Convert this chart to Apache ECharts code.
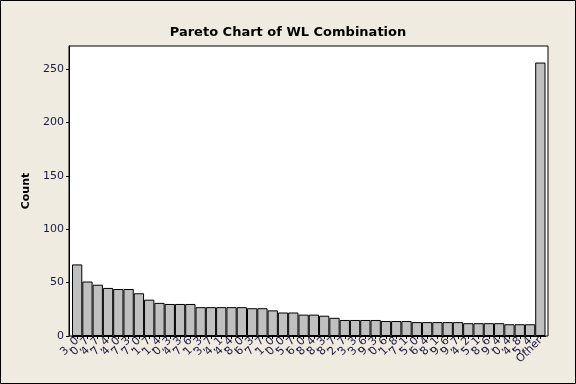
<!DOCTYPE html>
<html><head><meta charset="utf-8">
<script src="https://cdn.jsdelivr.net/npm/echarts@6/dist/echarts.min.js"></script>
<style>html,body{margin:0;padding:0;background:#EFEBE1}#c{width:576px;height:384px}</style>
</head><body><div id="c"></div>
<script>
const categories = ["3, 0","0, 7","4, 7","7, 4","4, 0","7, 3","7, 0","1, 7","1, 4","0, 3","4, 3","7, 6","1, 3","3, 7","4, 1","4, 4","8, 0","6, 3","7, 7","1, 0","0, 0","5, 7","6, 0","8, 4","8, 3","8, 7","2, 7","3, 3","3, 6","9, 3","0, 6","1, 8","7, 1","5, 0","6, 4","8, 1","9, 6","9, 7","4, 2","5, 1","8, 6","9, 4","0, 4","4, 8","5, 4","Other"];
const counts = [67,51,48,45,44,44,40,34,31,30,30,30,27,27,27,27,27,26,26,24,22,22,20,20,19,17,15,15,15,15,14,14,14,13,13,13,13,13,12,12,12,12,11,11,11,256];
const yTicks = [0,50,100,150,200,250];
const yMax = 271.5;

const chart = echarts.init(document.getElementById('c'));
const txt = '#1a1a40';
chart.setOption({
  backgroundColor: '#EFEBE1',
  animation: false,
  title: {
    text: 'Pareto Chart of WL Combination',
    left: 'center', top: 21,
    textStyle: {fontFamily: 'DejaVu Sans', fontWeight: 'bold', fontSize: 13, color: '#000'}
  },
  graphic: [{type: 'rect', shape: {x: 0.5, y: 0.5, width: 575, height: 383}, style: {fill: null, stroke: '#000', lineWidth: 1}, silent: true}],
  grid: [
    {left: 69, right: 28, top: 46, bottom: 48, show: true, backgroundColor: '#fff', borderColor: '#000', borderWidth: 1, z: 0},
    {left: 72, right: 30.5, top: 46, bottom: 48}
  ],
  xAxis: [
    {gridIndex: 0, type: 'value', show: false},
    {gridIndex: 1, type: 'category', data: categories,
     axisLine: {show: true, lineStyle: {color: '#000', width: 1}},
     axisTick: {show: true, alignWithLabel: true, length: 3, lineStyle: {color: '#000'}},
     axisLabel: {interval: 0, rotate: 45, margin: 3, fontFamily: 'DejaVu Sans', fontSize: 11, color: txt}}
  ],
  yAxis: [
    {gridIndex: 0, type: 'value', show: false},
    {gridIndex: 1, type: 'value', min: 0, max: yMax, offset: 3,
     name: 'Count', nameLocation: 'middle', nameGap: 36,
     nameTextStyle: {fontFamily: 'DejaVu Sans', fontWeight: 'bold', fontSize: 11, color: '#000'},
     splitLine: {show: false},
     axisLine: {show: true, lineStyle: {color: '#000', width: 1}},
     axisTick: {show: true, length: 3, customValues: yTicks, lineStyle: {color: '#000'}},
     axisLabel: {customValues: yTicks, margin: 5, fontFamily: 'DejaVu Sans', fontSize: 11, color: txt}}
  ],
  series: [{
    type: 'bar', xAxisIndex: 1, yAxisIndex: 1, data: counts,
    barCategoryGap: 0,
    itemStyle: {color: '#C0C0C0', borderColor: '#000', borderWidth: 1}
  }]
});
</script></body></html>
